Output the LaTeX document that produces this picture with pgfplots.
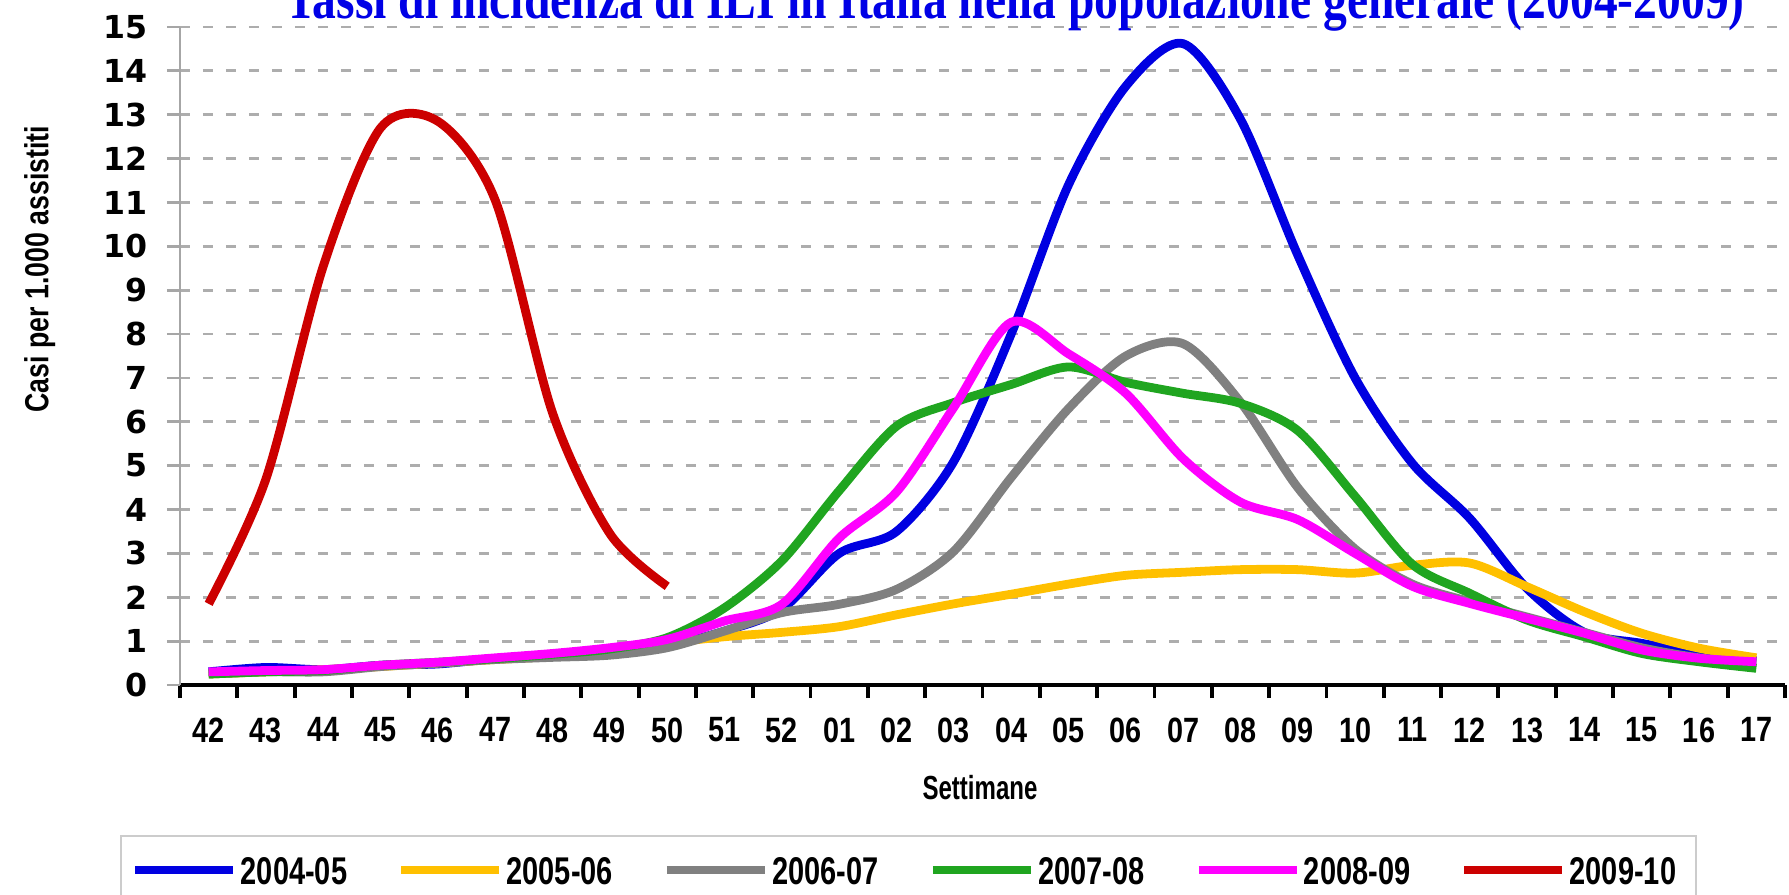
\documentclass[border=0pt]{standalone}
\usepackage{fontspec}
\setmainfont{Liberation Sans}
\usepackage{pgfplots}
\usepackage{pgfplotstable}
\pgfplotsset{compat=1.18}
\newfontfamily\ytickfont{DejaVu Sans Bold}
\newfontfamily\narrowbold{Liberation Sans Bold}[FakeStretch=0.82]
\newfontfamily\ylabfont{Liberation Sans Bold}[FakeStretch=0.8]
\newfontfamily\xlabfont{Liberation Sans Bold}[FakeStretch=0.72]
\newfontfamily\legendbold{Liberation Sans Bold}[FakeStretch=0.75]
\newfontfamily\titlefont{Liberation Serif Bold}[FakeStretch=0.82]
\definecolor{cblue}{RGB}{0,0,225}
\definecolor{cyellow}{RGB}{255,192,0}
\definecolor{cgray}{RGB}{128,128,128}
\definecolor{cgreen}{RGB}{32,165,32}
\definecolor{cpink}{RGB}{255,0,255}
\definecolor{cred}{RGB}{204,0,0}
\definecolor{ctitle}{RGB}{0,0,230}

\pgfplotstableread{
x b yl g gn p
0 0.30 0.25 0.25 0.25 0.30
1 0.40 0.30 0.30 0.30 0.33
2 0.35 0.35 0.30 0.33 0.35
3 0.45 0.42 0.42 0.45 0.45
4 0.48 0.50 0.50 0.52 0.52
5 0.60 0.58 0.58 0.60 0.62
6 0.68 0.65 0.63 0.70 0.72
7 0.78 0.75 0.68 0.82 0.85
8 0.90 0.95 0.85 1.08 1.04
9 1.23 1.10 1.23 1.76 1.46
10 1.73 1.20 1.65 2.83 1.84
11 3.00 1.33 1.84 4.43 3.35
12 3.50 1.60 2.18 5.90 4.40
13 5.10 1.85 3.05 6.44 6.33
14 8.00 2.07 4.73 6.85 8.27
15 11.40 2.30 6.30 7.25 7.55
16 13.65 2.50 7.50 6.90 6.65
17 14.62 2.57 7.78 6.65 5.16
18 12.90 2.63 6.45 6.42 4.17
19 9.80 2.63 4.50 5.80 3.77
20 7.00 2.55 3.10 4.30 3.00
21 5.05 2.73 2.30 2.75 2.25
22 3.80 2.78 1.90 2.09 1.86
23 2.20 2.24 1.55 1.48 1.52
24 1.20 1.67 1.20 1.10 1.18
25 0.95 1.18 0.85 0.72 0.80
26 0.72 0.84 0.62 0.53 0.61
27 0.55 0.62 0.50 0.38 0.53
}\data

\pgfplotstableread{
x r
0 1.85
1 4.70
2 9.55
3 12.70
4 12.85
5 11.05
6 6.20
7 3.45
8 2.25
}\reddata

\begin{document}
\begin{tikzpicture}
\begin{axis}[
  at={(0mm,0mm)}, anchor=south west,
  scale only axis, width=160.5mm, height=65.8mm,
  xmin=-0.5, xmax=27.5, ymin=0, ymax=15,
  axis lines*=left,
  x axis line style={black, line width=1.1pt},
  y axis line style={black!35, line width=0.7pt},
  xtick={-0.5,0.5,...,27.5},
  x tick label as interval,
  xticklabels={42,43,44,45,46,47,48,49,50,51,52,01,02,03,04,05,06,07,08,09,10,11,12,13,14,15,16,17},
  ytick={0,1,2,3,4,5,6,7,8,9,10,11,12,13,14,15},
  yticklabels={0,1,2,3,4,5,6,7,8,9,10,11,12,13,14,15},
  tick align=outside,
  major tick length=1.3mm,
  xtick style={black, line width=1.1pt},
  ytick style={black!35, line width=0.8pt},
  ymajorgrids,
  grid style={black!32, line width=0.8pt, dash pattern=on 1mm off 1.3mm},
  xticklabel style={font=\narrowbold\fontsize{10}{12}\selectfont, anchor=north, inner sep=0pt, yshift=-1.9mm},
  yticklabel style={font=\ytickfont\fontsize{9}{11}\selectfont, anchor=east, inner sep=0pt, xshift=-1.9mm},
  legend columns=6,
  legend cell align=left,
  legend style={at={(-0.0374,-0.228)}, anchor=north west,
    draw=black!20, line width=0.6pt,
    inner xsep=1mm, inner ysep=2mm,
    font=\legendbold\fontsize{11}{13}\selectfont,
    nodes={inner sep=0pt, text height=2.8mm, text depth=0pt, text width=11.6mm, anchor=west},
    /tikz/every odd column/.append style={column sep=0.3mm},
    /tikz/every even column/.append style={column sep=4.0mm}},
  legend image code/.code={\draw[#1, line width=2.5pt] (0mm,0mm) -- (9.8mm,0mm);},
  every axis plot/.append style={line width=2.5pt, smooth, no markers},
]
\addplot[cblue] table[x=x, y=b] {\data};
\addlegendentry{2004-05}
\addplot[cyellow] table[x=x, y=yl] {\data};
\addlegendentry{2005-06}
\addplot[cgray] table[x=x, y=g] {\data};
\addlegendentry{2006-07}
\addplot[cgreen] table[x=x, y=gn] {\data};
\addlegendentry{2007-08}
\addplot[cpink] table[x=x, y=p] {\data};
\addlegendentry{2008-09}
\addplot[cred] table[x=x, y=r] {\reddata};
\addlegendentry{2009-10}
\end{axis}
\node[anchor=base, font=\titlefont\fontsize{16.5}{18}\selectfont, text=ctitle, inner sep=0pt] at (83.5mm, 66.65mm) {Tassi di incidenza di ILI in Italia nella popolazione generale (2004-2009)};
\node[rotate=90, anchor=base, font=\ylabfont\fontsize{9.5}{11}\selectfont, inner sep=0pt] at (-13.15mm, 41.6mm) {Casi per 1.000 assistiti};
\node[anchor=base, font=\xlabfont\fontsize{9.5}{11}\selectfont, inner sep=0pt] at (80mm, -11.4mm) {Settimane};
\pgfresetboundingbox
\path (-18.0mm, -20.9mm) rectangle (160.9mm, 68.5mm);
\end{tikzpicture}
\end{document}
